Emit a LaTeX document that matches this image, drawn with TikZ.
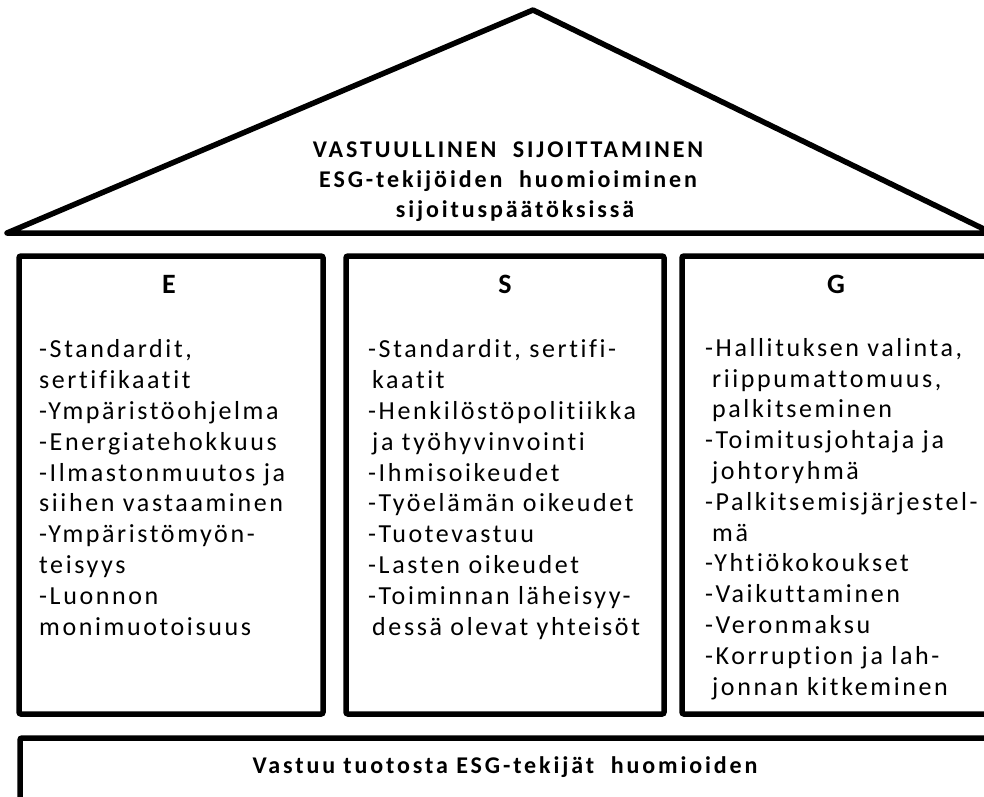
\documentclass[tikz,border=0pt]{standalone}
\usepackage{fontspec}
\setmainfont{Carlito}
\newfontfamily\spaced[LetterSpace=10,Ligatures={NoCommon}]{Carlito}
\newfontfamily\spacedtitle[LetterSpace=12,Ligatures={NoCommon}]{Carlito}
\newfontfamily\spacedfoot[LetterSpace=12,Ligatures={NoCommon}]{Carlito}
\begin{document}
\begin{tikzpicture}[x=1pt,y=-1pt,
  shape line/.style={draw=black,line width=5.5pt,line join=round},
  boxline/.style={draw=black,line width=5.5pt,rounded corners=2pt},
  title/.style={font=\spacedtitle\fontsize{24}{30}\selectfont\bfseries,align=center,anchor=base,inner sep=0pt},
  head/.style={font=\fontsize{28}{30}\selectfont\bfseries,anchor=base,inner sep=0pt},
  items/.style={font=\spaced\fontsize{26}{30.8}\selectfont,align=left,anchor=base west,inner sep=0pt},
  foot/.style={font=\spacedfoot\fontsize{24}{26}\selectfont\bfseries,anchor=base,inner sep=0pt}]
\useasboundingbox (0,0) rectangle (984,796);
% roof
\coordinate (rl) at (7,233);
\coordinate (rt) at (533,10);
\coordinate (rr) at (992,233);
\draw[shape line] (rl) -- (rt) -- (rr) -- cycle;
\node[title] (roof1) at (508,157) {VASTUULLINEN\ \ SIJOITTAMINEN};
\node[title] (roof2) at (508,187) {ESG-tekijöiden\ \ huomioiminen};
\node[title] (roof3) at (515,217) {sijoituspäätöksissä};
% pillars
\draw[boxline] (19,256) rectangle (323,714);
\draw[boxline] (346,256) rectangle (664,714);
\draw[boxline] (682,256) rectangle (995,714);
\node[head] (e) at (169,293) {E};
\node[head] (s) at (505,293) {S};
\node[head] (g) at (836,293) {G};
\node[items] (etext) at (39,635) {-Standardit,\\sertifikaatit\\-Ympäristöohjelma\\-Energiatehokkuus\\-Ilmastonmuutos ja\\siihen vastaaminen\\-Ympäristömyön-\\teisyys\\-Luonnon\\monimuotoisuus};
\node[items] (stext) at (368,635) {-Standardit, sertifi-\\\hspace{4pt}kaatit\\-Henkilöstöpolitiikka\\\hspace{4pt}ja työhyvinvointi\\-Ihmisoikeudet\\-Työelämän oikeudet\\-Tuotevastuu\\-Lasten oikeudet\\-Toiminnan läheisyy-\\\hspace{4pt}dessä olevat yhteisöt};
\node[items] (gtext) at (705,695) {-Hallituksen valinta,\\\hspace{7pt}riippumattomuus,\\\hspace{7pt}palkitseminen\\-Toimitusjohtaja ja\\\hspace{7pt}johtoryhmä\\-Palkitsemisjärjestel-\\\hspace{7pt}mä\\-Yhtiökokoukset\\-Vaikuttaminen\\-Veronmaksu\\-Korruption ja lah-\\\hspace{7pt}jonnan kitkeminen};
% foundation
\draw[boxline] (20,738) rectangle (995,805);
\node[foot] (base) at (505,773) {Vastuu tuotosta ESG-tekijät\ \ huomioiden};
\end{tikzpicture}
\end{document}
